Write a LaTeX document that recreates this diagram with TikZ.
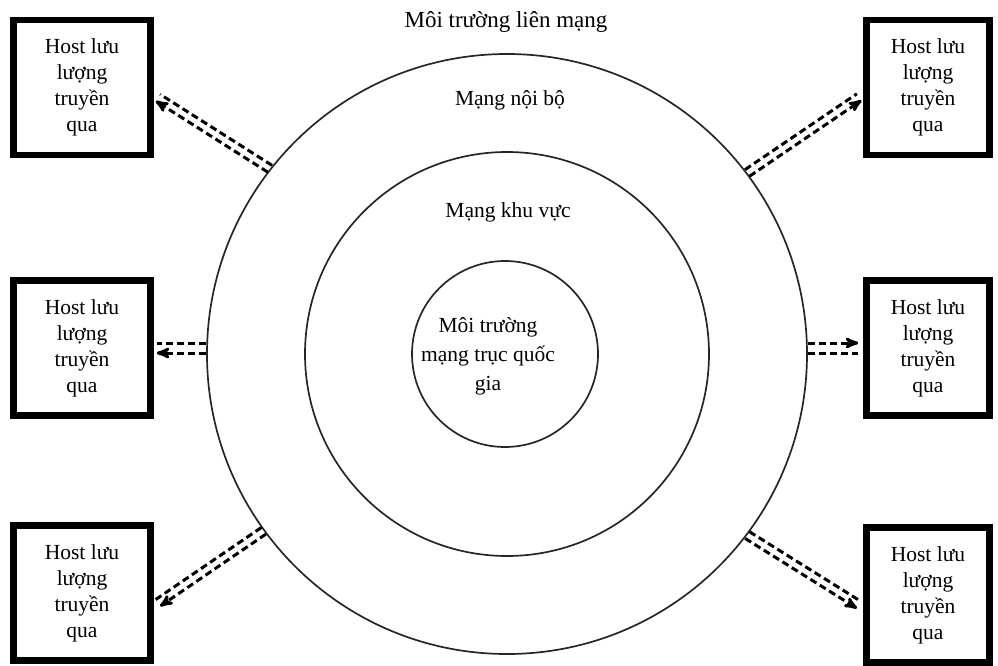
\documentclass[tikz,border=0pt]{standalone}
\usepackage{fontspec}
\setmainfont{Liberation Serif}
\usetikzlibrary{arrows,calc,positioning}
\tikzset{
>=stealth',
  hostbox/.style={
    rectangle,
    draw=black, line width=6.5pt,
    fill=white,
    align=center,
    minimum width=137pt,
    minimum height=135pt,
    inner sep=0pt,
    font=\fontsize{21.5}{26}\selectfont},
  ring/.style={circle, draw=black!85, line width=1.7pt, inner sep=0pt},
  ringtext/.style={align=center, font=\fontsize{21.5}{29}\selectfont},
  flow/.style={draw, line width=3pt, dash pattern=on 7pt off 4pt},
}
\begin{document}
\begin{tikzpicture}[x=1pt, y=-1pt]
    \useasboundingbox (0,0) rectangle (998,666);

    % rings
    \node[ring, minimum size=600pt] (outer) at (507,354) {};
    \node[ring, minimum size=404pt] (middle) at (507,354) {};
    \node[ring, minimum size=186pt] (inner) at (505,354) {};

    % ring labels
    \node[ringtext, font=\fontsize{23}{29}\selectfont] (lienmang) at (506,22) {Môi trường liên mạng};
    \node[ringtext] (noibo) at (510,100) {Mạng nội bộ};
    \node[ringtext] (khuvuc) at (508,212) {Mạng khu vực};
    \node[ringtext] (quocgia) at (488,356) {Môi trường\\mạng trục quốc\\gia};

    % hosts
    \node[hostbox] (hostTL) at (82,87.5) {Host lưu\\lượng\\truyền\\qua};
    \node[hostbox] (hostML) at (82,348) {Host lưu\\lượng\\truyền\\qua};
    \node[hostbox] (hostBL) at (82,593) {Host lưu\\lượng\\truyền\\qua};
    \node[hostbox, minimum width=123pt] (hostTR) at (928,87.5) {Host lưu\\lượng\\truyền\\qua};
    \node[hostbox, minimum width=123pt] (hostMR) at (928,348) {Host lưu\\lượng\\truyền\\qua};
    \node[hostbox, minimum width=123pt] (hostBR) at (928,595) {Host lưu\\lượng\\truyền\\qua};

    % traffic
    \draw[flow, ->, shorten >=5pt] ($(outer.142.5)!4pt!90:(hostTL.-6)$) -- ($(hostTL.-6)!4pt!-90:(outer.142.5)$);
    \draw[flow, shorten >=5pt] ($(outer.142.5)!4pt!-90:(hostTL.-6)$) -- ($(hostTL.-6)!4pt!90:(outer.142.5)$);

    \draw[flow, ->, shorten >=5pt] ($(outer.37)!4pt!-90:(hostTR.186)$) -- ($(hostTR.186)!4pt!90:(outer.37)$);
    \draw[flow, shorten >=5pt] ($(outer.37)!4pt!90:(hostTR.186)$) -- ($(hostTR.186)!4pt!-90:(outer.37)$);

    \draw[flow, shorten >=3pt] ($(hostML.east -| outer.west)+(0,-5)$) -- ($(hostML.east)+(0,-5)$);
    \draw[flow, ->, shorten >=3pt] ($(hostML.east -| outer.west)+(0,5)$) -- ($(hostML.east)+(0,5)$);

    \draw[flow, ->, shorten >=5pt] ($(hostMR.west -| outer.east)+(0,-5)$) -- ($(hostMR.west)+(0,-5)$);
    \draw[flow, shorten >=5pt] ($(hostMR.west -| outer.east)+(0,5)$) -- ($(hostMR.west)+(0,5)$);

    \draw[flow, ->, shorten >=5pt] ($(outer.216)!4pt!90:(hostBL.-10)$) -- ($(hostBL.-10)!4pt!-90:(outer.216)$);
    \draw[flow, shorten >=5pt] ($(outer.216)!4pt!-90:(hostBL.-10)$) -- ($(hostBL.-10)!4pt!90:(outer.216)$);

    \draw[flow, ->, shorten >=5pt] ($(outer.-37)!4pt!-90:(hostBR.191)$) -- ($(hostBR.191)!4pt!90:(outer.-37)$);
    \draw[flow, shorten >=5pt] ($(outer.-37)!4pt!90:(hostBR.191)$) -- ($(hostBR.191)!4pt!-90:(outer.-37)$);

\end{tikzpicture}
\end{document}
